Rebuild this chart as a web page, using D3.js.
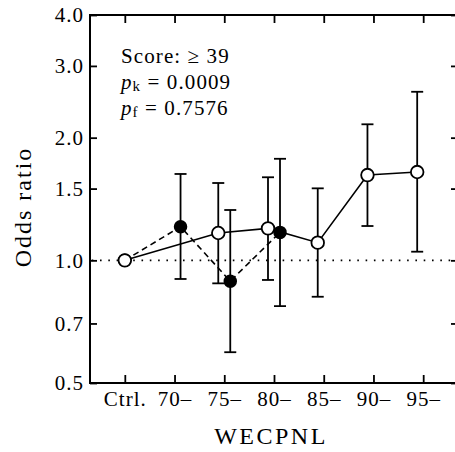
<!DOCTYPE html>
<html><head><meta charset="utf-8">
<script src="https://cdn.jsdelivr.net/npm/d3@7"></script>
<style>
html,body{margin:0;padding:0;background:#fff;}
svg{display:block;}
text{font-family:"Liberation Serif","Times New Roman",serif;fill:#000;}
</style></head>
<body>
<svg id="chart" width="455" height="452"></svg>
<script>
const categories = ["Ctrl.", "70–", "75–", "80–", "85–", "90–", "95–"];
const yTicks = [0.5, 0.7, 1.0, 1.5, 2.0, 3.0, 4.0];

// open circles, solid line
const openCats = ["Ctrl.", "75–", "80–", "85–", "90–", "95–"];
const openOR   = [1.0, 1.167, 1.198, 1.105, 1.619, 1.647];
const openLo   = [null, 0.878, 0.895, 0.814, 1.214, 1.05];
const openHi   = [null, 1.548, 1.599, 1.502, 2.157, 2.592];

// filled circles, dashed line
const fillCats = ["Ctrl.", "70–", "75–", "80–"];
const fillOR   = [1.0, 1.209, 0.889, 1.171];
const fillLo   = [null, 0.900, 0.595, 0.772];
const fillHi   = [null, 1.629, 1.329, 1.775];

const annotations = [
  {main: "Score: ≥ 39"},
  {p: "p", sub: "k", rest: " = 0.0009"},
  {p: "p", sub: "f", rest: " = 0.7576"}
];

const svg = d3.select("#chart");
const L = 90, R = 458, T = 15, B = 383;

const x = d3.scalePoint().domain(categories).range([L, R]).padding(0.7);
const y = d3.scaleLog().domain([0.5, 4]).range([B, T]);

function rows(cats, or, lo, hi) {
  return cats.map((c, i) => ({c, v: or[i], lo: lo[i], hi: hi[i]}));
}
const openData = rows(openCats, openOR, openLo, openHi);
const fillData = rows(fillCats, fillOR, fillLo, fillHi);
const px = (d, off) => x(d.c) + (d.c === "Ctrl." ? 0 : off);

// reference line at 1.0
svg.append("line")
  .attr("x1", L).attr("x2", R).attr("y1", y(1)).attr("y2", y(1))
  .attr("stroke", "#000").attr("stroke-width", 1.6)
  .attr("stroke-dasharray", "1.6,6.7").attr("stroke-dashoffset", -10);

// axes
const axisG = svg.append("g");
const yl = d3.axisLeft(y).tickValues(yTicks).tickFormat(d3.format(".1f")).tickSizeInner(-7).tickSizeOuter(0).tickPadding(6);
const gL = axisG.append("g").attr("transform", `translate(${L},0)`).call(yl);
const yr = d3.axisRight(y).tickValues(yTicks).tickFormat("").tickSizeInner(-7).tickSizeOuter(0);
const gR = axisG.append("g").attr("transform", `translate(${R},0)`).call(yr);
const xb = d3.axisBottom(x).tickSizeInner(-8).tickSizeOuter(0).tickPadding(8);
const gB = axisG.append("g").attr("transform", `translate(0,${B})`).call(xb);
const xt = d3.axisTop(x).tickFormat("").tickSizeInner(-8).tickSizeOuter(0);
const gT = axisG.append("g").attr("transform", `translate(0,${T})`).call(xt);

[gL, gR, gB, gT].forEach(g => {
  g.selectAll("path.domain").attr("stroke", "#000").attr("stroke-width", 2);
  g.selectAll(".tick line").attr("stroke", "#000").attr("stroke-width", 1.8);
  g.selectAll("text").attr("font-family", "Liberation Serif, serif").attr("font-size", 21).attr("fill", "#000");
});
gL.select("path.domain").attr("d", `M0,${B+1}V${T-1}`);
gB.select("path.domain").attr("d", `M${L-1},0H${R}`);
gT.select("path.domain").attr("d", `M${L-1},0H${R}`);
gL.selectAll("text").attr("letter-spacing", 1);
gB.selectAll("text").attr("letter-spacing", 1);

// lines
const lineOpen = d3.line().x(d => px(d, -6)).y(d => y(d.v));
const lineFill = d3.line().x(d => px(d, 6)).y(d => y(d.v));
svg.append("path").datum(fillData).attr("d", lineFill)
  .attr("fill", "none").attr("stroke", "#000").attr("stroke-width", 1.6).attr("stroke-dasharray", "6,4");
svg.append("path").datum(openData).attr("d", lineOpen)
  .attr("fill", "none").attr("stroke", "#000").attr("stroke-width", 1.6);

// error bars
function errBars(data, off) {
  const g = svg.append("g").attr("stroke", "#000").attr("stroke-width", 1.8);
  data.filter(d => d.lo != null).forEach(d => {
    const cx = px(d, off);
    g.append("line").attr("x1", cx).attr("x2", cx).attr("y1", y(d.lo)).attr("y2", y(d.hi));
    g.append("line").attr("x1", cx - 6).attr("x2", cx + 6).attr("y1", y(d.lo)).attr("y2", y(d.lo));
    g.append("line").attr("x1", cx - 6).attr("x2", cx + 6).attr("y1", y(d.hi)).attr("y2", y(d.hi));
  });
}
errBars(fillData, 6);
errBars(openData, -6);

// points
svg.append("g").selectAll("circle").data(fillData).join("circle")
  .attr("cx", d => px(d, 6)).attr("cy", d => y(d.v)).attr("r", 6)
  .attr("fill", "#000").attr("stroke", "#000").attr("stroke-width", 1.5);
svg.append("g").selectAll("circle").data(openData).join("circle")
  .attr("cx", d => px(d, -6)).attr("cy", d => y(d.v)).attr("r", 6.3)
  .attr("fill", "#fff").attr("stroke", "#000").attr("stroke-width", 1.8);

// annotations
const ann = svg.append("g").attr("font-size", 21).attr("letter-spacing", 1.1);
const baselines = [63, 89, 115];
annotations.forEach((a, i) => {
  const t = ann.append("text").attr("x", 121).attr("y", baselines[i]);
  if (a.main) { t.text(a.main); return; }
  t.append("tspan").attr("font-style", "italic").text(a.p);
  t.append("tspan").attr("font-size", 15).attr("dy", 2).text(a.sub);
  t.append("tspan").attr("dy", -2).text(a.rest);
});

// axis titles
svg.append("text").attr("transform", `translate(31,${(T + B) / 2 + 8}) rotate(-90)`)
  .attr("text-anchor", "middle").attr("font-size", 24).attr("letter-spacing", 2).text("Odds ratio");
svg.append("text").attr("x", 271).attr("y", 444)
  .attr("text-anchor", "middle").attr("font-size", 24).attr("letter-spacing", 2.5).text("WECPNL");
</script>
</body></html>
